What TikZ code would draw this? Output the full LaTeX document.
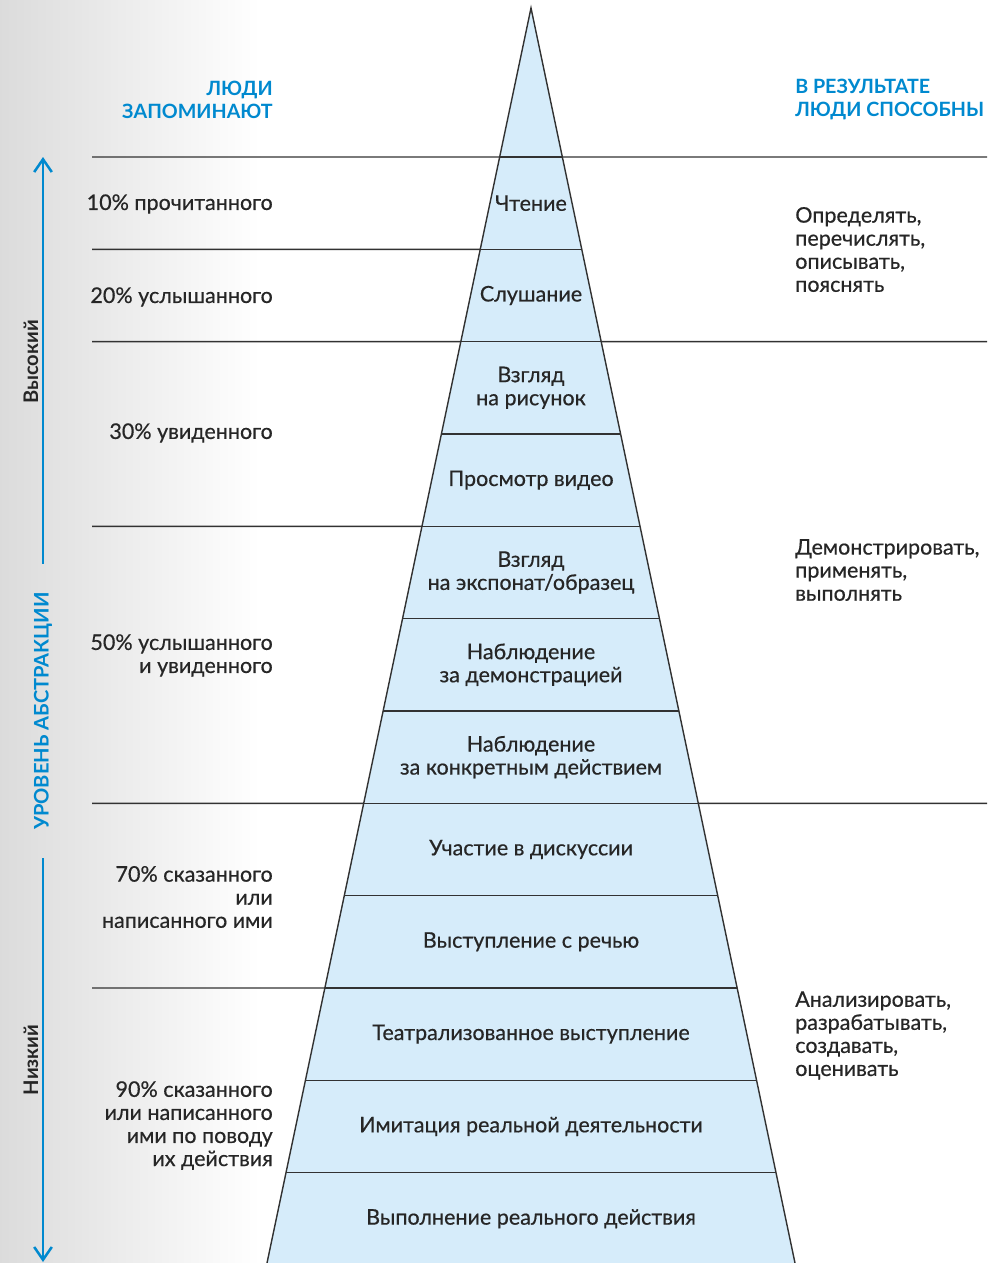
\documentclass[tikz,border=0pt]{standalone}
\usepackage{fontspec}
\setmainfont{Lato}
\newfontfamily\medfont[FakeBold=0.5]{Lato}
\usetikzlibrary{arrows.meta,calc}

\definecolor{abstrBlue}{RGB}{0,137,207}
\definecolor{pyrFill}{RGB}{214,236,250}
\definecolor{lineGray}{RGB}{50,50,50}
\definecolor{txtGray}{RGB}{38,38,38}

\begin{document}
\begin{tikzpicture}[x=0.025cm,y=-0.025cm]
	\tikzstyle{txt} = [
		font=\medfont\fontsize{15.3}{16.4}\selectfont, text=txtGray, inner sep=0pt
	]
	\tikzstyle{remember} = [
		txt, align=right, anchor=east
	]
	\tikzstyle{able} = [
		txt, align=left, anchor=west
	]
	\tikzstyle{level} = [
		txt, align=center
	]
	\tikzstyle{header} = [
		txt, font=\fontsize{14}{16.4}\selectfont\bfseries, text=abstrBlue
	]
	\tikzstyle{side} = [
		txt, font=\fontsize{14.3}{16.4}\selectfont\bfseries, rotate=90
	]
	\tikzstyle{sep} = [
		draw=lineGray, line width=1pt
	]
	\tikzstyle{axis} = [
		draw=abstrBlue, line width=1.8pt, -{Straight Barb[length=3.2mm,width=4.4mm]}
	]

	\useasboundingbox (0,0) rectangle (1006,1263);
	% Background
	\shade[left color=black!14, right color=white] (0,0) rectangle (260,1263);

	% Pyramid
	\coordinate (apex) at (531,8);
	\coordinate (baseL) at (267,1263);
	\coordinate (baseR) at (795,1263);
	\fill[pyrFill] (apex) -- (baseL) -- (baseR) -- cycle;
	\begin{scope}
		\clip (apex) -- (baseL) -- (baseR) -- cycle;
		\foreach \k in {0,...,11}
			\draw[sep] (0,{157+92.33*\k}) -- (1006,{157+92.33*\k});
	\end{scope}
	\draw[sep] (baseL) -- (apex) -- (baseR);

	% Separators left / right
	\foreach \k in {0,1,2,4,7,9} {
		\pgfmathsetmacro{\yy}{157+92.33*\k}
		\draw[sep] (92,\yy) -- ($(apex)!{(\yy-8)/1255}!(baseL)$);
	}
	\foreach \k in {0,2,7} {
		\pgfmathsetmacro{\yy}{157+92.33*\k}
		\draw[sep] ($(apex)!{(\yy-8)/1255}!(baseR)$) -- (987,\yy);
	}

	% Levels
	\foreach \k/\lbl in {0/{Чтение}, 1/{Слушание}, 2/{Взгляд\\на рисунок},
		3/{Просмотр видео}, 4/{Взгляд\\на экспонат/образец},
		5/{Наблюдение\\за демонстрацией}, 6/{Наблюдение\\за конкретным действием},
		7/{Участие в дискуссии}, 8/{Выступление с речью},
		9/{Театрализованное выступление}, 10/{Имитация реальной деятельности},
		11/{Выполнение реального действия}}
		\node (lvl\k) [level] at (531,{157+92.33*(\k+0.5)}) {\lbl};

	% Headers
	\node (memHead) [header, align=right, anchor=east] at (273,99.5) {ЛЮДИ\\ЗАПОМИНАЮТ};
	\node (ableHead) [header, align=left, anchor=west] at (795,99.5) {В РЕЗУЛЬТАТЕ\\ЛЮДИ СПОСОБНЫ};

	% People remember
	\node (mem10) [remember] at (273,204) {10\% прочитанного};
	\node (mem20) [remember] at (273,297) {20\% услышанного};
	\node (mem30) [remember] at (273,433) {30\% увиденного};
	\node (mem50) [remember] at (273,655.5) {50\% услышанного\\и увиденного};
	\node (mem70) [remember] at (273,897) {70\% сказанного\\или\\написанного ими};
	\node (mem90) [remember] at (273,1125.5) {90\% сказанного\\или написанного\\ими по поводу\\их действия};

	% People are able to
	\node (ableA) [able] at (795,249.5) {Определять,\\перечислять,\\описывать,\\пояснять};
	\node (ableB) [able] at (795,570) {Демонстрировать,\\применять,\\выполнять};
	\node (ableC) [able] at (795,1035.5) {Анализировать,\\разрабатывать,\\создавать,\\оценивать};

	% Abstraction axis
	\node (axisLabel) [side, text=abstrBlue, inner xsep=0.7cm] at (43,711) {УРОВЕНЬ АБСТРАКЦИИ};
	\node (axisHigh) [side] at (31,362) {Высокий};
	\node (axisLow) [side] at (31,1060) {Низкий};
	\coordinate (axisTop) at (43,157);
	\coordinate (axisBottom) at (43,1262);
	\draw[axis] (axisLabel.east) -- (axisTop);
	\draw[axis] (axisLabel.west) -- (axisBottom);

\end{tikzpicture}
\end{document}
